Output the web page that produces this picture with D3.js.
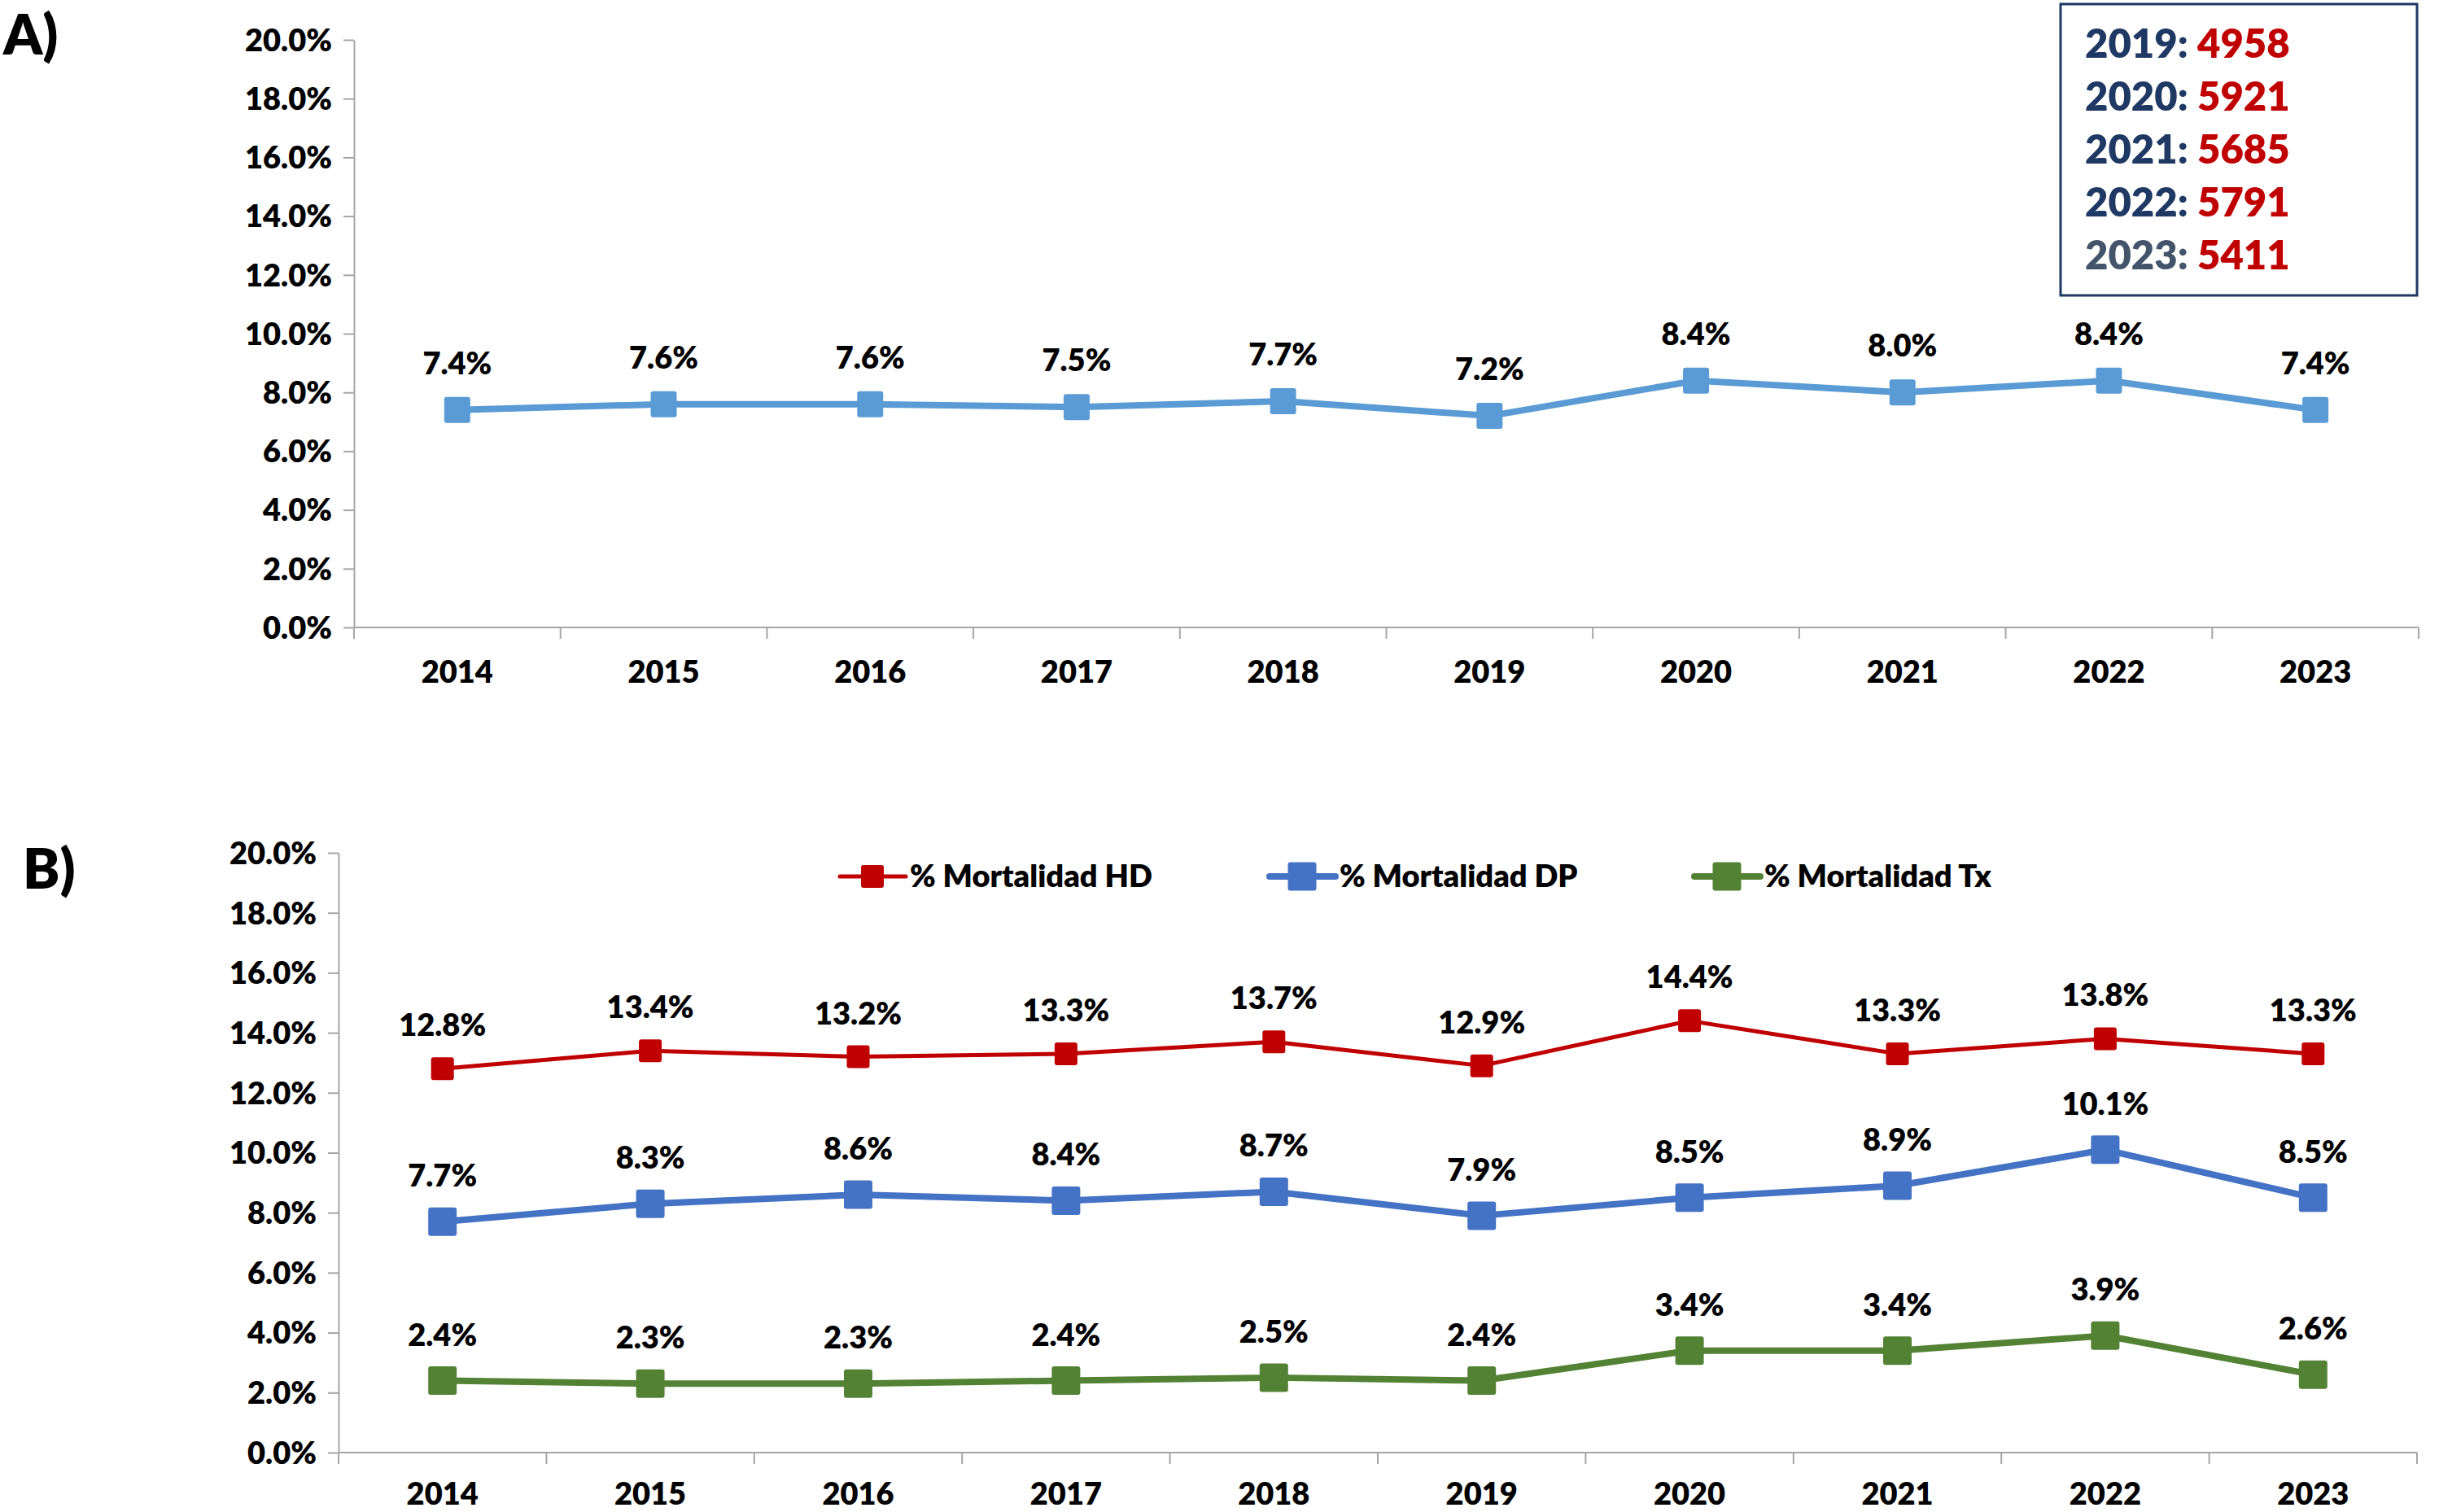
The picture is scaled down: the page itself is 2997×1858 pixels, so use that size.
<!DOCTYPE html>
<html>
<head>
<meta charset="utf-8">
<script src="https://cdn.jsdelivr.net/npm/d3@7"></script>
<style>
  body { margin: 0; background: #fff; }
  text { font-family: Lato, "Liberation Sans", sans-serif; font-weight: 800; }
</style>
</head>
<body>
<svg id="chart" width="2997" height="1858"></svg>
<script>
// data
var years = ["2014", "2015", "2016", "2017", "2018", "2019", "2020", "2021", "2022", "2023"]
var yTicks = [0, 2, 4, 6, 8, 10, 12, 14, 16, 18, 20]

var mortTotal = [7.4, 7.6, 7.6, 7.5, 7.7, 7.2, 8.4, 8.0, 8.4, 7.4]
var mortHD = [12.8, 13.4, 13.2, 13.3, 13.7, 12.9, 14.4, 13.3, 13.8, 13.3]
var mortDP = [7.7, 8.3, 8.6, 8.4, 8.7, 7.9, 8.5, 8.9, 10.1, 8.5]
var mortTx = [2.4, 2.3, 2.3, 2.4, 2.5, 2.4, 3.4, 3.4, 3.9, 2.6]

var boxYears = ["2019", "2020", "2021", "2022", "2023"]
var boxCounts = [4958, 5921, 5685, 5791, 5411]

var seriesB = [
  {name: "% Mortalidad HD", values: mortHD, color: "#C00000", width: 5, size: 28, legendX: 1118},
  {name: "% Mortalidad DP", values: mortDP, color: "#4472C4", width: 8, size: 35, legendX: 1646},
  {name: "% Mortalidad Tx", values: mortTx, color: "#548235", width: 8, size: 35, legendX: 2168}
]

var svg = d3.select("#chart")
var axisColor = "#A6A6A6"

function fmt(d) { return d.toFixed(1) + "%" }

// draws axes for one panel, returns the scales
function panel(left, right, top, bottom) {
  var x = d3.scaleBand().domain(years).range([left, right])
  var y = d3.scaleLinear().domain([0, 20]).range([bottom, top])

  var gy = svg.append("g").attr("transform", "translate(" + left + ",0)")
    .call(d3.axisLeft(y).tickValues(yTicks).tickFormat(fmt).tickSize(13).tickSizeOuter(0).tickPadding(14))
  gy.select(".domain").attr("stroke", axisColor).attr("stroke-width", 2)
  gy.selectAll(".tick line").attr("stroke", axisColor).attr("stroke-width", 2)
  gy.selectAll(".tick text").style("font-size", "38px").attr("fill", "#000").attr("dy", "0.35em")

  // x axis line + tick marks between categories
  svg.append("line").attr("x1", left).attr("x2", right).attr("y1", bottom).attr("y2", bottom)
    .attr("stroke", axisColor).attr("stroke-width", 2)
  var bounds = years.map(function(c) { return x(c) }).concat([x.range()[1]])
  svg.selectAll(null).data(bounds).enter().append("line")
    .attr("x1", function(d) { return d }).attr("x2", function(d) { return d })
    .attr("y1", bottom).attr("y2", bottom + 14)
    .attr("stroke", axisColor).attr("stroke-width", 2)
  svg.selectAll(null).data(years).enter().append("text")
    .attr("x", function(d) { return x(d) + x.bandwidth() / 2 })
    .attr("y", Math.min(bottom + 68, 1849))
    .attr("text-anchor", "middle")
    .style("font-size", "38px")
    .text(function(d) { return d })

  return {x: x, y: y}
}

function series(sc, values, color, width, size, labelOff) {
  var cx = function(d, i) { return sc.x(years[i]) + sc.x.bandwidth() / 2 }
  var line = d3.line().x(cx).y(function(d) { return sc.y(d) })
  svg.append("path").datum(values).attr("d", line)
    .attr("fill", "none").attr("stroke", color).attr("stroke-width", width)
    .attr("stroke-linejoin", "round")
  svg.selectAll(null).data(values).enter().append("rect")
    .attr("x", function(d, i) { return cx(d, i) - size / 2 })
    .attr("y", function(d) { return sc.y(d) - size / 2 })
    .attr("width", size).attr("height", size).attr("rx", 3)
    .attr("fill", color)
  svg.selectAll(null).data(values).enter().append("text")
    .attr("x", cx)
    .attr("y", function(d) { return sc.y(d) - labelOff })
    .attr("text-anchor", "middle")
    .style("font-size", "38px")
    .text(fmt)
}

// ---- panel A
svg.append("text").attr("x", 4).attr("y", 67).text("A)").style("font-size", "68px")
var a = panel(435, 2972, 49, 771)
series(a, mortTotal, "#5B9BD5", 8, 32, 44)

// counts box
svg.append("rect").attr("x", 2532).attr("y", 5).attr("width", 438).attr("height", 358)
  .attr("fill", "#fff").attr("stroke", "#1F3864").attr("stroke-width", 3)
var bt = svg.selectAll(null).data(boxYears).enter().append("text")
  .attr("x", 2562).attr("y", function(d, i) { return 71 + i * 65 })
  .style("font-size", "49px")
bt.append("tspan").attr("fill", function(d, i) { return i == 4 ? "#44546A" : "#1F3864" })
  .text(function(d) { return d + ": " })
bt.append("tspan").attr("fill", "#C00000").text(function(d, i) { return boxCounts[i] })

// ---- panel B
svg.append("text").attr("x", 28).attr("y", 1092).text("B)").style("font-size", "68px")
var b = panel(416, 2970, 1048, 1785)
seriesB.forEach(function(s) {
  series(b, s.values, s.color, s.width, s.size, s.color == "#C00000" ? 40 : 43)
})

// legend
seriesB.forEach(function(s) {
  svg.append("line").attr("x1", s.legendX - 86).attr("x2", s.legendX - 5).attr("y1", 1077).attr("y2", 1077)
    .attr("stroke", s.color).attr("stroke-width", s.width).attr("stroke-linecap", "round")
  svg.append("rect").attr("x", s.legendX - 46 - s.size / 2).attr("y", 1077 - s.size / 2)
    .attr("width", s.size).attr("height", s.size).attr("rx", 3).attr("fill", s.color)
  svg.append("text").attr("x", s.legendX).attr("y", 1090).text(s.name).style("font-size", "38px")
})
</script>
</body>
</html>
